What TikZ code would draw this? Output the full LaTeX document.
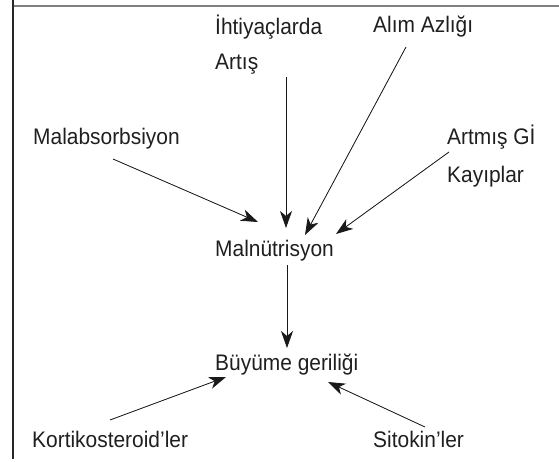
\documentclass[tikz,border=0pt]{standalone}
\usepackage{fontspec}
\setmainfont[FakeStretch=0.93]{Liberation Sans}
\usetikzlibrary{arrows.meta}
\begin{document}
\begin{tikzpicture}[x=1pt,y=-1pt,
  lbl/.style={anchor=base west, inner sep=0pt, font=\fontsize{22.5}{27}\selectfont, text=black!88},
  arr/.style={-{Stealth[length=17pt,width=12pt,inset=5pt]}, line width=0.8pt, draw=black!90, fill=black!90}]
\useasboundingbox (0,0) rectangle (559,462);
\draw[line width=2pt, black!50] (13,6) -- (559,6);
\draw[line width=1.2pt, black!85] (13,0) -- (13,459);
% labels
\node[lbl] (iht)   at (215,35)  {İhtiyaçlarda};
\node[lbl] (artis) at (215,70)  {Artış};
\node[lbl] (alim)  at (373,33)  {Alım Azlığı};
\node[lbl] (malab) at (33,145)  {Malabsorbsiyon};
\node[lbl] (artgi) at (447,145) {Artmış Gİ};
\node[lbl] (kay)   at (447,183) {Kayıplar};
\node[lbl] (maln)  at (215,257) {Malnütrisyon};
\node[lbl] (buy)   at (215,370) {Büyüme geriliği};
\node[lbl] (kort)  at (32,447)  {Kortikosteroid’ler};
\node[lbl] (sit)   at (373,447) {Sitokin’ler};
% connector ends
\coordinate (artisS) at (286,77);
\coordinate (malnA)  at (286,228);
\coordinate (alimS)  at (406,47);
\coordinate (malnB)  at (305,235);
\coordinate (malabS) at (113,159);
\coordinate (malnC)  at (258,222);
\coordinate (kayS)   at (449,152);
\coordinate (malnD)  at (336,234);
\coordinate (malnS)  at (287,265);
\coordinate (buyA)   at (287,348);
\coordinate (kortS)  at (110,420);
\coordinate (buyB)   at (226,377);
\coordinate (sitS)   at (425,427);
\coordinate (buyC)   at (328,382);
% connectors
\draw[arr] (artisS) -- (malnA);
\draw[arr] (alimS) -- (malnB);
\draw[arr] (malabS) -- (malnC);
\draw[arr] (kayS) -- (malnD);
\draw[arr] (malnS) -- (buyA);
\draw[arr] (kortS) -- (buyB);
\draw[arr] (sitS) -- (buyC);
\end{tikzpicture}
\end{document}
